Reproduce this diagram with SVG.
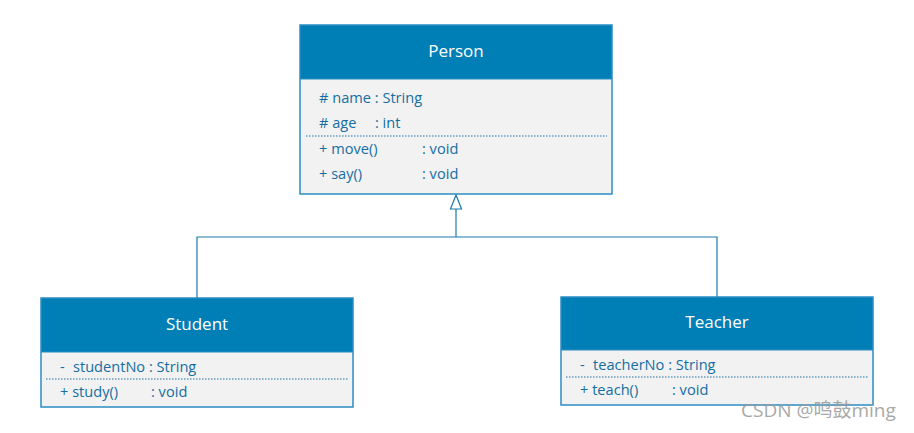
<svg xmlns="http://www.w3.org/2000/svg" width="914" height="433" viewBox="0 0 914 433">
<style>
.hdr{fill:#007fb6}
.body{fill:#f2f2f2}
.frame{fill:none;stroke:#2b8cc4;stroke-width:1.5}
.title{font-family:"Open Sans","Liberation Sans",sans-serif;font-size:17px;fill:#ffffff;text-anchor:middle}
.t{font-family:"Open Sans","Liberation Sans",sans-serif;font-size:14.6px;fill:#156ea3}
.dot{stroke:#1a72a8;stroke-width:1;stroke-dasharray:1.5 1.5}
.conn{fill:none;stroke:#1b78ad;stroke-width:1.2}
.wm{font-family:"Open Sans","Noto Sans CJK SC",sans-serif;font-size:19px;fill:#9a9a9a;opacity:0.85}
</style>
<g id="connectors">
<polyline class="conn" points="456,209 456,237"/>
<polyline class="conn" points="197,298 197,237 717,237 717,297"/>
<polygon points="456,195 450.5,209 461.5,209" fill="#ffffff" stroke="#1b78ad" stroke-width="1.2"/>
</g>
<g id="person">
<rect class="body" x="300" y="25" width="312" height="169"/>
<rect class="hdr" x="300" y="25" width="312" height="54"/>
<rect class="frame" x="300" y="25" width="312" height="169"/>
<line x1="300" y1="79" x2="612" y2="79" stroke="#2b8cc4" stroke-width="1"/>
<text class="title" x="456" y="57">Person</text>
<text class="t" x="319" y="103"># name : String</text>
<text class="t" x="319" y="128"># age</text>
<text class="t" x="375" y="128">: int</text>
<line class="dot" x1="306" y1="136" x2="607" y2="136"/>
<text class="t" x="319" y="154">+ move()</text>
<text class="t" x="422" y="154">: void</text>
<text class="t" x="319" y="179">+ say()</text>
<text class="t" x="422" y="179">: void</text>
</g>
<g id="student">
<rect class="body" x="41" y="298" width="312" height="109"/>
<rect class="hdr" x="41" y="298" width="312" height="54"/>
<rect class="frame" x="41" y="298" width="312" height="109"/>
<line x1="41" y1="352" x2="353" y2="352" stroke="#2b8cc4" stroke-width="1"/>
<text class="title" x="197" y="330">Student</text>
<text class="t" x="60" y="372">-</text>
<text class="t" x="73" y="372">studentNo : String</text>
<line class="dot" x1="46" y1="379" x2="348" y2="379"/>
<text class="t" x="60" y="397">+ study()</text>
<text class="t" x="151" y="397">:  void</text>
</g>
<g id="teacher">
<rect class="body" x="561" y="297" width="312" height="108"/>
<rect class="hdr" x="561" y="297" width="312" height="53"/>
<rect class="frame" x="561" y="297" width="312" height="108"/>
<line x1="561" y1="350" x2="873" y2="350" stroke="#2b8cc4" stroke-width="1"/>
<text class="title" x="717" y="328">Teacher</text>
<text class="t" x="580" y="370">-</text>
<text class="t" x="593" y="370">teacherNo : String</text>
<line class="dot" x1="566" y1="377" x2="868" y2="377"/>
<text class="t" x="580" y="395">+ teach()</text>
<text class="t" x="672" y="395">: void</text>
</g>
<text class="wm" x="741" y="417">CSDN @鸣鼓ming</text>
</svg>
